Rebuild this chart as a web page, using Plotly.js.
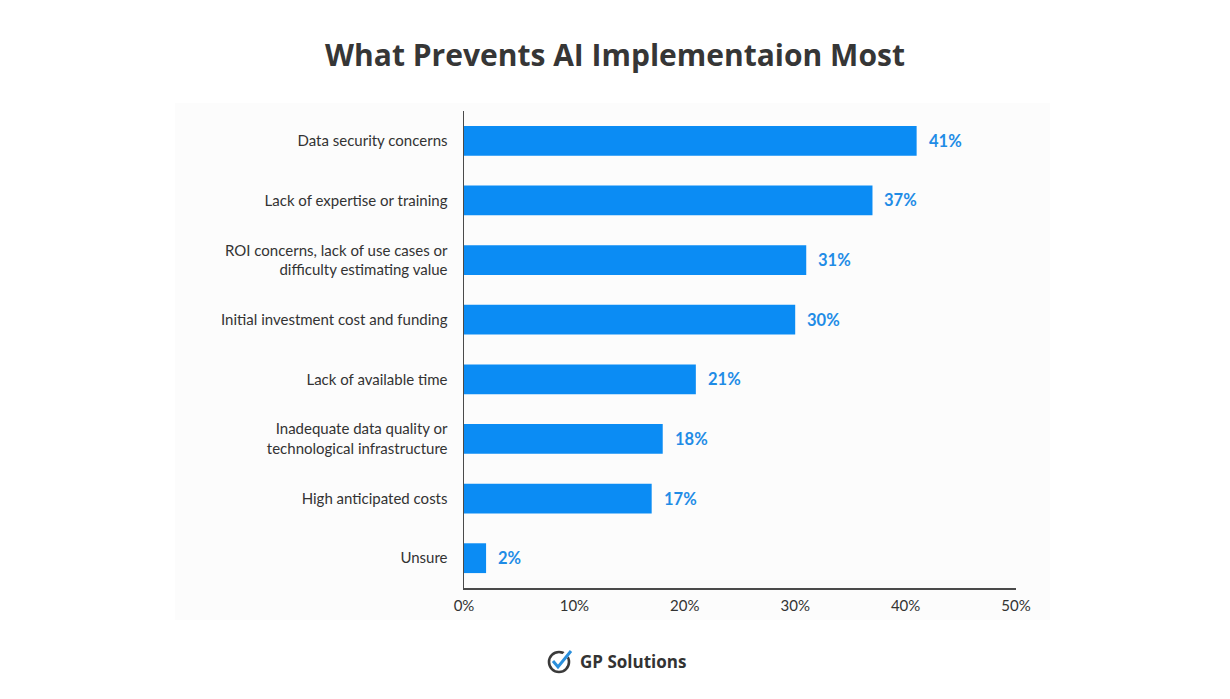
<!DOCTYPE html>
<html>
<head>
<meta charset="utf-8">
<script src="https://cdn.plot.ly/plotly-3.0.1.min.js"></script>
<style>
  html, body { margin: 0; padding: 0; background: #ffffff; }
  #chart { width: 1230px; height: 699px; }
</style>
</head>
<body>
<div id="chart"></div>
<script>
// Barriers to AI adoption, share of respondents (%)
const categories = [
  "Data security concerns",
  "Lack of expertise or training",
  "ROI concerns, lack of use cases or<br>difficulty estimating value",
  "Initial investment cost and funding",
  "Lack of available time",
  "Inadequate data quality or<br>technological infrastructure",
  "High anticipated costs",
  "Unsure"
];
const shares = [41, 37, 31, 30, 21, 18, 17, 2];
const tickValues = [0, 10, 20, 30, 40, 50];
const tickLabels = ["0%", "10%", "20%", "30%", "40%", "50%"];

const barColor = "#0b8cf4";
const labelColor = "#1f8ce6";
const inkColor = "#333333";

const trace = {
  type: "bar",
  orientation: "h",
  y: categories,
  x: shares,
  width: 0.5,
  marker: { color: barColor },
  hoverinfo: "x+y"
};

// value labels sit just past the end of each bar
const valueLabels = shares.map((v, i) => ({
  x: v,
  y: categories[i],
  xref: "x",
  yref: "y",
  text: v + "%",
  showarrow: false,
  xanchor: "left",
  yanchor: "middle",
  xshift: 10,
  font: { family: "Lato, sans-serif", size: 16.5, color: labelColor, weight: 700 }
}));

const logoX = 0.1721;
const logoY = -0.1551;

const layout = {
  width: 1230,
  height: 699,
  paper_bgcolor: "#ffffff",
  plot_bgcolor: "rgba(0,0,0,0)",
  margin: { l: 464, r: 214, t: 111, b: 111 },
  showlegend: false,
  bargap: 0.5,
  title: {
    text: "<b>What Prevents AI Implementaion Most</b>",
    x: 0.5,
    xanchor: "center",
    y: 0.921,
    yanchor: "middle",
    font: { family: "Open Sans, sans-serif", size: 30, color: "#363636" }
  },
  xaxis: {
    range: [0, 50],
    tickvals: tickValues,
    ticktext: tickLabels,
    showgrid: false,
    zeroline: false,
    showline: true,
    linecolor: "#4a4a4a",
    linewidth: 1.5,
    ticks: "outside",
    ticklen: 3,
    tickcolor: "rgba(0,0,0,0)",
    tickfont: { family: "Lato, sans-serif", size: 15, color: inkColor },
    fixedrange: true
  },
  yaxis: {
    autorange: "reversed",
    showgrid: false,
    zeroline: false,
    showline: true,
    linecolor: "#4a4a4a",
    linewidth: 1.5,
    ticks: "outside",
    ticklen: 12,
    tickcolor: "rgba(0,0,0,0)",
    tickfont: { family: "Lato, sans-serif", size: 15, color: inkColor },
    fixedrange: true
  },
  shapes: [
    // soft panel behind the chart
    {
      type: "rect", xref: "paper", yref: "paper",
      x0: -0.5236, x1: 1.0616, y0: -0.067, y1: 1.0168,
      fillcolor: "#fcfcfc", line: { width: 0 }, layer: "below"
    },
    // logo ring
    {
      type: "circle", xref: "paper", yref: "paper",
      xsizemode: "pixel", ysizemode: "pixel",
      xanchor: logoX, yanchor: logoY,
      x0: -10, x1: 10, y0: -10, y1: 10,
      line: { color: "#3a3a3a", width: 2.6 }
    },
    // gap in the ring for the tick
    {
      type: "path", xref: "paper", yref: "paper",
      xsizemode: "pixel", ysizemode: "pixel",
      xanchor: logoX, yanchor: logoY,
      path: "M 5 5 L 11 11",
      line: { color: "#ffffff", width: 6 }
    },
    // logo tick
    {
      type: "path", xref: "paper", yref: "paper",
      xsizemode: "pixel", ysizemode: "pixel",
      xanchor: logoX, yanchor: logoY,
      path: "M -6 1 L -1 -5 L 12 11",
      line: { color: "#2a8fdc", width: 3 }
    }
  ],
  annotations: valueLabels.concat([
    {
      x: 0.2065, y: logoY, xref: "paper", yref: "paper",
      text: "<b>GP Solutions</b>",
      showarrow: false, xanchor: "left", yanchor: "middle",
      font: { family: "Open Sans, sans-serif", size: 17, color: inkColor }
    }
  ])
};

Plotly.newPlot("chart", [trace], layout, { displayModeBar: false, staticPlot: true });
</script>
</body>
</html>
